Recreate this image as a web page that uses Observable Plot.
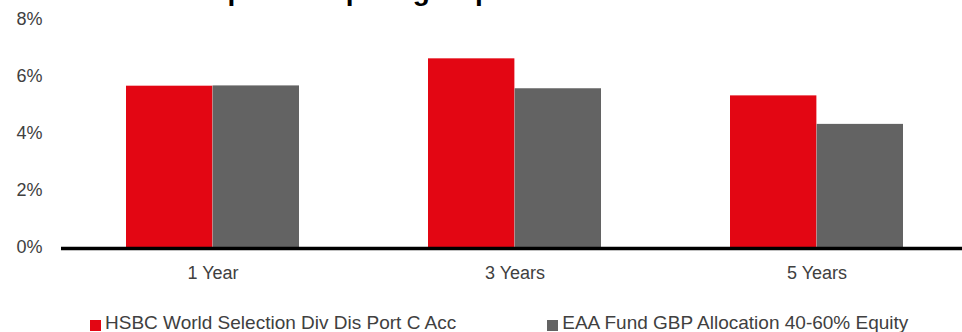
<!DOCTYPE html>
<html>
<head>
<meta charset="utf-8">
<script src="https://cdn.jsdelivr.net/npm/d3@7"></script>
<script src="https://cdn.jsdelivr.net/npm/@observablehq/plot@0.6"></script>
<style>
  html, body { margin: 0; padding: 0; background: #fff; overflow: hidden; }
  #wrap { position: relative; width: 962px; height: 332px; overflow: hidden; font-family: "Liberation Sans", Arial, sans-serif; }
  #chart { position: absolute; top: 0; left: 0; }
  #title { position: absolute; top: -23px; left: -9px; font-size: 28px; line-height: 28px; font-weight: bold; color: #000; white-space: nowrap; }
  #legend { position: absolute; top: 312px; left: 90px; display: flex; gap: 91px; font-size: 19px; color: #404040; white-space: nowrap; }
  .item { display: flex; align-items: center; gap: 4px; line-height: 22px; }
  .sw { width: 11px; height: 11px; display: inline-block; margin-top: 4px; }
</style>
</head>
<body>
<div id="wrap">
  <div id="chart"></div>
  <div id="title">Performance compared to peer group</div>
  <div id="legend"></div>
</div>
<script>
const periods = ["1 Year", "3 Years", "5 Years"];
const seriesNames = ["HSBC World Selection Div Dis Port C Acc", "EAA Fund GBP Allocation 40-60% Equity"];
const hsbcValues = [5.66, 6.62, 5.32];
const peerValues = [5.67, 5.57, 4.32];
const yTicks = [0, 2, 4, 6, 8];
const colors = ["#E30613", "#636363"];

const rows = [];
periods.forEach((p, i) => {
  rows.push({period: p, series: seriesNames[0], value: hsbcValues[i]});
  rows.push({period: p, series: seriesNames[1], value: peerValues[i]});
});

const W = 962, ML = 61, MR = -6;
const padInner = 0.427, padOuter = 0.2135;
const xScale = d3.scaleBand().domain(periods).range([ML, W - MR]).paddingInner(padInner).paddingOuter(padOuter);
const half = xScale.bandwidth() / 2;

const chart = Plot.plot({
  width: W,
  height: 290,
  marginTop: 19,
  marginBottom: 43,
  marginLeft: ML,
  marginRight: MR,
  style: {fontFamily: "'Liberation Sans', Arial, sans-serif", fontSize: "18px", color: "#404040", background: "transparent", overflow: "visible"},
  x: {domain: periods, paddingInner: padInner, paddingOuter: padOuter, label: null, tickSize: 0, tickPadding: 19},
  y: {domain: [0, 8], ticks: yTicks, tickFormat: d => d + "%", label: null, tickSize: 0, tickPadding: 19},
  color: {domain: seriesNames, range: colors},
  marks: [
    Plot.barY(rows.filter(d => d.series === seriesNames[0]), {x: "period", y: "value", fill: "series", insetRight: half}),
    Plot.barY(rows.filter(d => d.series === seriesNames[1]), {x: "period", y: "value", fill: "series", insetLeft: half}),
    Plot.ruleY([0], {stroke: "#000", strokeWidth: 3.5, dy: 1})
  ]
});
document.getElementById("chart").appendChild(chart);

const legend = document.getElementById("legend");
seriesNames.forEach((s, i) => {
  const it = document.createElement("div");
  it.className = "item";
  const sw = document.createElement("span");
  sw.className = "sw";
  sw.style.background = colors[i];
  const t = document.createElement("span");
  t.textContent = s;
  it.appendChild(sw);
  it.appendChild(t);
  legend.appendChild(it);
});
</script>
</body>
</html>
